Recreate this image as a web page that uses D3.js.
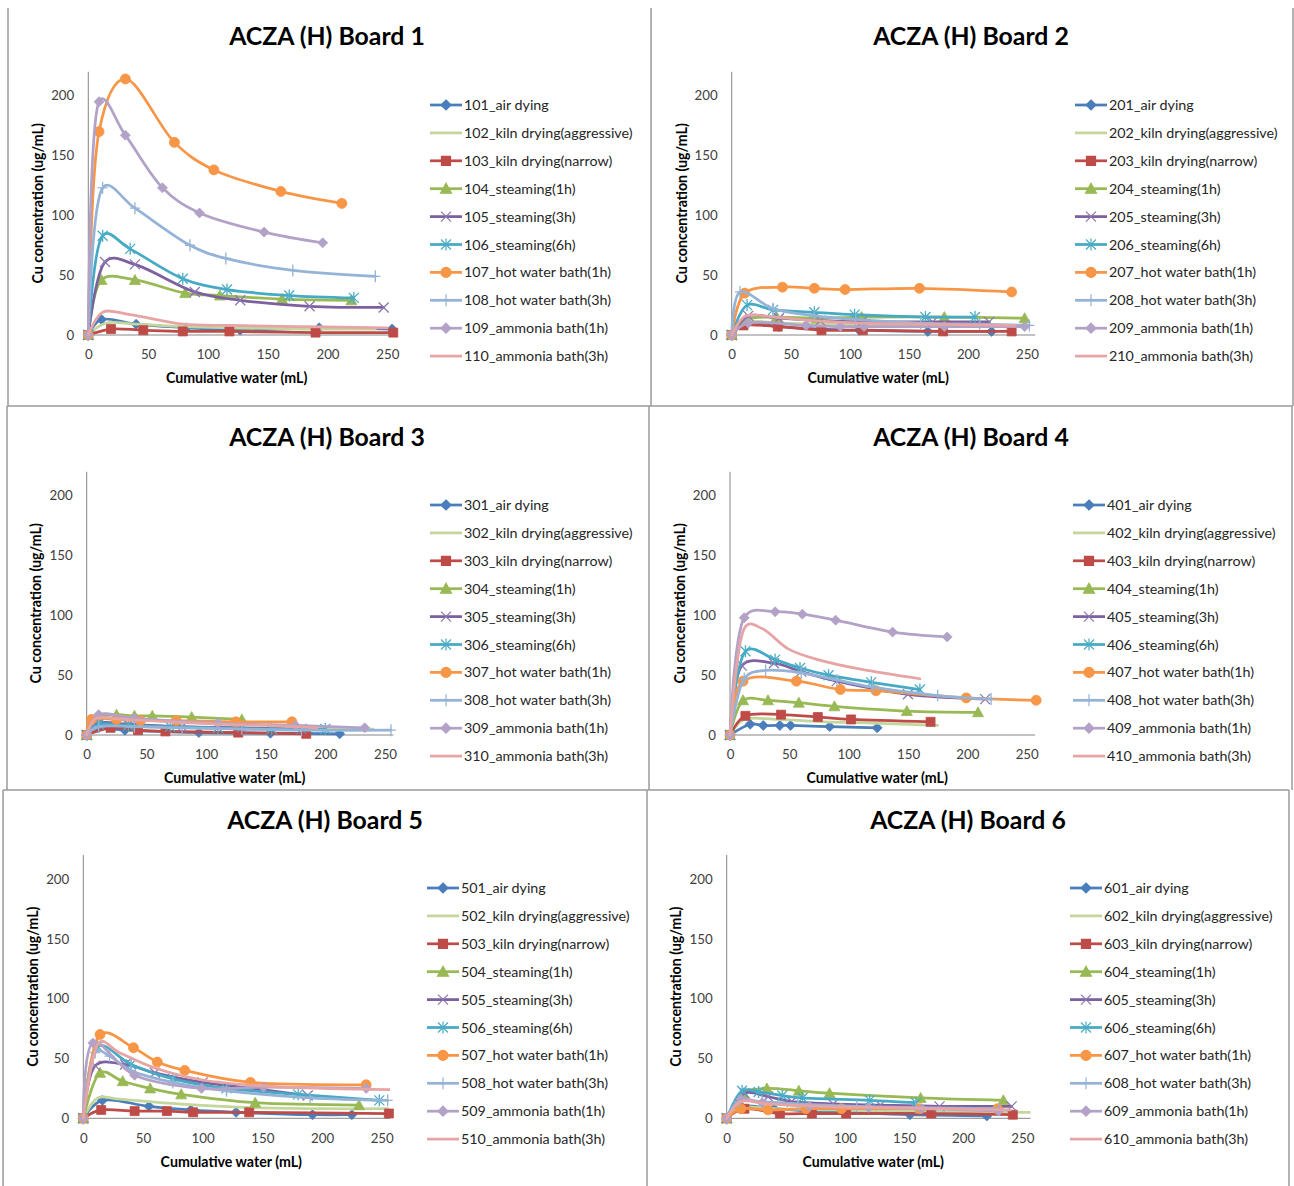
<!DOCTYPE html>
<html>
<head>
<meta charset="utf-8">
<script src="https://cdn.jsdelivr.net/npm/d3@7"></script>
<style>
  body { margin: 0; background: #fff; }
  svg text { font-family: Lato, "Open Sans", sans-serif; }
</style>
</head>
<body>
<div id="chart"></div>
<script>
var width = 1294,
    height = 1186;

// series labels (suffix after board number)
var names = ["air dying", "kiln drying(aggressive)", "kiln drying(narrow)", "steaming(1h)",
             "steaming(3h)", "steaming(6h)", "hot water bath(1h)", "hot water bath(3h)",
             "ammonia bath(1h)", "ammonia bath(3h)"];
var colors = ["#4A7EBB", "#C3D69B", "#BE4B48", "#98B954", "#7D60A0",
              "#46AAC5", "#F79646", "#95B3D7", "#B3A2C7", "#E6A5A4"];
var markerColors = ["#4A7EBB", null, "#BE4B48", "#98B954", "#8C76B0",
                    "#4BACC6", "#F79646", "#95B3D7", "#B3A2C7", null];
var markers = ["diamond", null, "square", "triangle", "x", "star", "circle", "plus", "diamond", null];

var xTicks = [0, 50, 100, 150, 200, 250],
    yTicks = [0, 50, 100, 150, 200];

// [cumulative water (mL), Cu (ug/mL)]
var board1 = [
  [[0,0],[11,13],[40,9],[82,6],[127,4],[193,6],[254,5]],
  [[0,0],[15,10],[40,9],[80,7],[120,6],[180,5],[240,5]],
  [[0,0],[19,5],[46,4],[79,3],[118,3],[190,2],[255,2]],
  [[0,0],[11,46],[39,46],[81,35],[110,33],[162,30],[220,29]],
  [[0,0],[14,61],[39,59],[89,36],[127,29],[185,24],[247,23]],
  [[0,0],[12,83],[35,72],[79,47],[116,38],[168,33],[222,31]],
  [[0,0],[9,170],[31,214],[72,161],[105,138],[161,120],[212,110]],
  [[0,0],[12,123],[39,106],[85,75],[115,64],[171,54],[240,49]],
  [[0,0],[9,195],[31,167],[62,123],[93,102],[147,86],[196,77]],
  [[0,0],[12,19],[35,17],[80,9],[120,8],[180,7],[250,6]]
];
var board2 = [
  [[0,0],[12,10],[40,7],[75,5],[108,4],[166,3],[220,3]],
  [[0,0],[12,11],[40,10],[80,9],[120,8],[180,7],[240,7]],
  [[0,0],[10,8],[39,7],[76,4],[111,4],[179,3],[237,3]],
  [[0,0],[12,13],[38,15],[72,14],[110,15],[180,15],[248,14]],
  [[0,0],[14,16],[40,14],[75,12],[110,11],[170,11],[218,11]],
  [[0,0],[13,25],[35,21],[70,19],[104,17],[164,15],[206,15]],
  [[0,0],[11,35],[43,40],[70,39],[96,38],[159,39],[237,36]],
  [[0,0],[7,36],[35,22],[70,16],[105,13],[160,10],[210,9],[252,8]],
  [[0,0],[14,10],[63,8],[92,7],[112,7],[180,7],[248,7]],
  [[0,0],[12,16],[35,15],[70,12],[110,10],[170,9],[240,8]]
];
var board3 = [
  [[0,0],[10,6],[32,4],[94,2],[154,1.5],[212,1]],
  [[0,0],[10,7],[40,7],[90,6],[140,5],[190,5],[240,5]],
  [[0,0],[20,6],[43,4],[66,3],[127,2],[184,1]],
  [[0,0],[8,14],[25,17],[40,16],[55,16],[88,15],[130,13]],
  [[0,0],[10,10],[35,9],[80,7],[130,6],[180,5]],
  [[0,0],[10,9],[35,8],[70,7],[110,6],[155,5],[200,5]],
  [[0,0],[4,13],[25,13],[45,12],[75,12],[125,11],[172,11]],
  [[0,0],[10,7],[40,7],[80,6],[130,5],[180,4],[255,4]],
  [[0,0],[10,17],[40,14],[110,10],[175,8],[233,6]],
  [[0,0],[8,14],[30,13],[70,11],[110,9],[150,8],[193,6]]
];
var board4 = [
  [[0,0],[17,9],[28,8],[42,8],[51,8],[84,7],[124,6]],
  [[0,0],[12,13],[40,13],[80,11],[120,10],[175,8]],
  [[0,0],[13,16],[43,17],[74,15],[102,13],[169,11]],
  [[0,0],[11,29],[32,29],[58,27],[88,24],[149,20],[209,19]],
  [[0,0],[10,58],[37,60],[60,53],[90,45],[150,34],[215,30]],
  [[0,0],[13,70],[38,63],[59,56],[83,50],[119,44],[160,38]],
  [[0,0],[11,45],[56,45],[93,38],[123,37],[199,31],[258,29]],
  [[0,0],[12,47],[30,54],[60,52],[90,46],[120,40],[175,33],[220,30]],
  [[0,0],[12,98],[38,103],[61,101],[89,96],[137,86],[183,82]],
  [[0,0],[12,89],[27,89],[49,72],[74,63],[110,55],[160,47]]
];
var board5 = [
  [[0,0],[16,15],[55,10],[90,7],[128,5],[192,3],[225,3]],
  [[0,0],[12,17],[30,16],[80,12],[140,9],[200,8],[255,8]],
  [[0,0],[15,7],[43,6],[70,6],[92,5],[139,5],[256,4]],
  [[0,0],[14,38],[33,31],[56,25],[82,20],[144,13],[231,11]],
  [[0,0],[10,44],[35,45],[60,38],[100,30],[150,24],[188,19]],
  [[0,0],[12,60],[40,45],[75,33],[120,25],[180,20],[248,15]],
  [[0,0],[14,70],[42,59],[62,47],[85,40],[140,30],[237,28]],
  [[0,0],[10,55],[22,52],[40,40],[75,30],[120,23],[190,17],[255,15]],
  [[0,0],[8,63],[43,36],[99,25],[151,26],[237,25]],
  [[0,0],[13,63],[30,55],[60,42],[100,32],[150,27],[200,25],[258,24]]
];
var board6 = [
  [[0,0],[12,10],[40,8],[70,6],[100,5],[155,3],[220,2]],
  [[0,0],[12,9],[40,8],[90,7],[150,6],[200,5],[260,5]],
  [[0,0],[15,8],[45,4],[72,4],[101,4],[173,4],[242,3]],
  [[0,0],[14,21],[34,25],[61,23],[87,21],[164,17],[234,15]],
  [[0,0],[15,21],[35,18],[55,14],[90,12],[130,11],[180,10],[241,10]],
  [[0,0],[13,23],[27,22],[47,19],[64,17],[121,15],[160,13]],
  [[0,0],[12,8],[35,7],[67,8],[97,8],[163,8],[229,8]],
  [[0,0],[10,14],[30,14],[60,12],[110,10],[160,9],[230,8]],
  [[0,0],[12,16],[30,13],[70,10],[120,9],[165,8],[230,6]],
  [[0,0],[12,14],[35,12],[80,10],[130,9],[180,8],[240,7]]
];
var boards = [board1, board2, board3, board4, board5, board6];

// layout of the six chart objects as pasted on the page
var panels = [
  {x0: 88.3, x250: 387.3, y0: 335, y200: 95.7, title: [327, 36], yt: 38, xtY: 378, lgLine: 430, lgY: 105},
  {x0: 731.7, x250: 1027, y0: 335, y200: 95.7, title: [971, 36], yt: 682, xtY: 378, lgLine: 1075, lgY: 105},
  {x0: 86.7, x250: 385, y0: 735, y200: 495.7, title: [327, 437], yt: 36, xtY: 778, lgLine: 430, lgY: 505},
  {x0: 730, x250: 1026.7, y0: 735, y200: 495.7, title: [971, 437], yt: 680, xtY: 778, lgLine: 1073, lgY: 505},
  {x0: 83.3, x250: 381.7, y0: 1118.3, y200: 879, title: [325, 820], yt: 33, xtY: 1162, lgLine: 427, lgY: 888},
  {x0: 726.7, x250: 1022.3, y0: 1118.3, y200: 879, title: [968, 820], yt: 676, xtY: 1162, lgLine: 1070, lgY: 888}
];

var borders = [
  [8, 8, 8, 406], [651, 8, 651, 406], [1293, 8, 1293, 406],
  [7, 406, 1293, 406],
  [7, 406, 7, 790], [649, 406, 649, 790], [1292, 406, 1292, 790],
  [3, 790, 1289, 790],
  [3, 790, 3, 1186], [647, 790, 647, 1186], [1289, 790, 1289, 1186]
];

function markerPath(type) {
  switch (type) {
    case "diamond": return "M0,-5L5,0L0,5L-5,0Z";
    case "square": return "M-4.5,-4.5H4.5V4.5H-4.5Z";
    case "triangle": return "M0,-5.5L5.5,4.5H-5.5Z";
    case "circle": return "M5,0A5,5 0 1,1 -5,0A5,5 0 1,1 5,0Z";
    case "x": return "M-5,-5L5,5M5,-5L-5,5";
    case "star": return "M-5,-5L5,5M5,-5L-5,5M0,-6V6";
    case "plus": return "M-5,0H5M0,-6V6";
  }
}
function isStroked(m) { return m == "x" || m == "star" || m == "plus"; }

var svg = d3.select("#chart").append("svg")
    .attr("width", width)
    .attr("height", height);

svg.append("rect").attr("width", width).attr("height", height).attr("fill", "#fff");

svg.selectAll("line.border")
    .data(borders)
  .enter().append("line")
    .attr("class", "border")
    .attr("x1", function(d) { return d[0]; })
    .attr("y1", function(d) { return d[1]; })
    .attr("x2", function(d) { return d[2]; })
    .attr("y2", function(d) { return d[3]; })
    .attr("stroke", "#9a9a9a")
    .attr("stroke-width", 1.5);

// Excel-like smoothed line
var line = d3.line().curve(d3.curveCatmullRom.alpha(0.25));

panels.forEach(function(p, b) {
  var data = boards[b],
      num = b + 1;
  var x = d3.scaleLinear().domain([0, 250]).range([p.x0, p.x250]),
      y = d3.scaleLinear().domain([0, 200]).range([p.y0, p.y200]);
  var g = svg.append("g");

  g.append("text")
      .attr("x", p.title[0]).attr("y", p.title[1] + 8.5)
      .attr("text-anchor", "middle")
      .attr("font-size", 24.8).attr("font-weight", "bold")
      .attr("fill", "#000")
      .text("ACZA (H) Board " + num);

  // axes
  g.append("g")
      .attr("transform", "translate(" + x(0) + ",0)")
      .call(d3.axisLeft(y).tickValues(yTicks).tickSize(0).tickPadding(14))
      .call(function(s) { s.select(".domain").remove(); })
      .selectAll("text").attr("font-size", 13.3).attr("fill", "#404040");
  g.append("g")
      .attr("transform", "translate(0," + y(0) + ")")
      .call(d3.axisBottom(x).tickValues(xTicks).tickSize(0).tickPadding(15))
      .call(function(s) { s.select(".domain").remove(); })
      .selectAll("text").attr("font-size", 13.3).attr("fill", "#404040");

  g.append("line")
      .attr("x1", x(0)).attr("x2", x(0))
      .attr("y1", y(220)).attr("y2", y(-5))
      .attr("stroke", "#868686");
  g.append("line")
      .attr("x1", x(-4)).attr("x2", x(257))
      .attr("y1", y(0)).attr("y2", y(0))
      .attr("stroke", "#868686");

  g.append("text")
      .attr("transform", "translate(" + p.yt + "," + (y(0) + y(220)) / 2 + ")rotate(-90)")
      .attr("dy", "0.35em")
      .attr("text-anchor", "middle")
      .attr("font-size", 14.2).attr("font-weight", "bold")
      .text("Cu concentration (ug/mL)");
  g.append("text")
      .attr("x", (x(-4) + x(257)) / 2 - 3).attr("y", p.xtY)
      .attr("dy", "0.35em")
      .attr("text-anchor", "middle")
      .attr("font-size", 14.2).attr("font-weight", "bold")
      .text("Cumulative water (mL)");

  var clipId = "clip" + num;
  g.append("clipPath").attr("id", clipId)
    .append("rect")
      .attr("x", x(-4)).attr("y", y(220))
      .attr("width", x(257) - x(-4)).attr("height", y(-5) - y(220));

  line.x(function(d) { return x(d[0]); }).y(function(d) { return y(d[1]); });

  data.forEach(function(series, i) {
    g.append("path")
        .attr("d", line(series))
        .attr("clip-path", "url(#" + clipId + ")")
        .attr("fill", "none")
        .attr("stroke", colors[i])
        .attr("stroke-width", 2.75)
        .attr("stroke-linejoin", "round")
        .attr("stroke-linecap", "round");
    if (markers[i]) {
      var stroked = isStroked(markers[i]);
      g.selectAll(null)
          .data(series)
        .enter().append("path")
          .attr("transform", function(d) { return "translate(" + x(d[0]) + "," + y(d[1]) + ")"; })
          .attr("d", markerPath(markers[i]))
          .attr("fill", stroked ? "none" : markerColors[i])
          .attr("stroke", markerColors[i])
          .attr("stroke-width", stroked ? 1.3 : 0.8);
    }
  });

  // legend
  var lg = g.selectAll("g.legend")
      .data(names)
    .enter().append("g")
      .attr("class", "legend")
      .attr("transform", function(d, i) { return "translate(" + p.lgLine + "," + (p.lgY + i * 27.9) + ")"; });
  lg.append("line")
      .attr("x1", 0).attr("x2", 32)
      .attr("stroke", function(d, i) { return colors[i]; })
      .attr("stroke-width", 2.75);
  lg.filter(function(d, i) { return markers[i]; })
    .append("path")
      .attr("transform", "translate(16,0)")
      .attr("d", function(d) { return markerPath(markers[names.indexOf(d)]); })
      .attr("fill", function(d) {
        var i = names.indexOf(d);
        return isStroked(markers[i]) ? "none" : markerColors[i];
      })
      .attr("stroke", function(d) { return markerColors[names.indexOf(d)]; })
      .attr("stroke-width", 1.2);
  lg.append("text")
      .attr("x", 34).attr("dy", "0.35em")
      .attr("font-size", 14.3).attr("fill", "#262626")
      .text(function(d, i) { return (num * 100 + i + 1) + "_" + d; });
});
</script>
</body>
</html>
